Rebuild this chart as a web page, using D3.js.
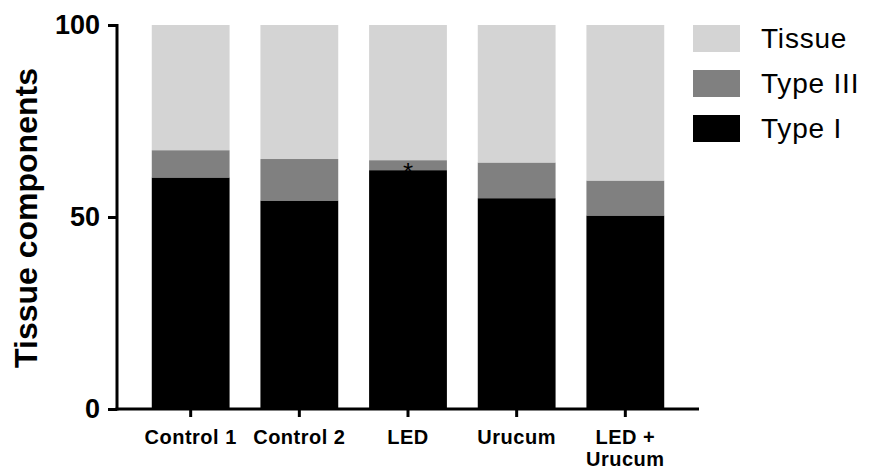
<!DOCTYPE html>
<html>
<head>
<meta charset="utf-8">
<script src="https://cdn.jsdelivr.net/npm/d3@7"></script>
<style>
  body { margin: 0; background: #fff; }
  text { font-family: 'Liberation Sans', Arial, sans-serif; }
</style>
</head>
<body>
<svg class="chart" width="869" height="470"></svg>
<script>
// data (percent)
const groups = ['Control 1', 'Control 2', 'LED', 'Urucum', 'LED + Urucum'];
const typeI = [60.3, 54.3, 62.2, 54.9, 50.4];
const typeIII = [7.1, 10.8, 2.6, 9.3, 9.1];
const tissue = groups.map((g, i) => +(100 - typeI[i] - typeIII[i]).toFixed(1));
const yTicks = [0, 50, 100];
const seriesNames = ['Type I', 'Type III', 'Tissue'];
const colors = ['#000000', '#808080', '#d4d4d4'];
const marked = ['LED'];

const rows = groups.map((g, i) => ({
  group: g, 'Type I': typeI[i], 'Type III': typeIII[i], 'Tissue': tissue[i]
}));

const svg = d3.select('.chart');

const xScale = d3.scaleBand()
  .domain(groups)
  .range([117, 699])
  .paddingInner(0.284)
  .paddingOuter(0.32);

const yScale = d3.scaleLinear()
  .domain([0, 100])
  .range([409, 25]);

const stacked = d3.stack().keys(seriesNames)(rows);

svg.append('g')
  .selectAll('g')
  .data(stacked)
  .enter()
  .append('g')
  .attr('fill', (d, i) => colors[i])
  .selectAll('rect')
  .data(d => d)
  .enter()
  .append('rect')
  .attr('x', d => xScale(d.data.group))
  .attr('width', xScale.bandwidth())
  .attr('y', d => yScale(d[1]))
  .attr('height', d => yScale(d[0]) - yScale(d[1]));

// asterisk over Type I of LED
svg.selectAll('text.star')
  .data(rows.filter(r => marked.includes(r.group)))
  .enter()
  .append('text')
  .attr('class', 'star')
  .attr('x', d => xScale(d.group) + xScale.bandwidth() / 2)
  .attr('y', d => yScale(d['Type I']) + 11)
  .attr('text-anchor', 'middle')
  .style('font-size', '26px')
  .text('*');

// y axis
const yAxis = d3.axisLeft(yScale).tickValues(yTicks).tickSize(9).tickPadding(8);
const gy = svg.append('g')
  .attr('transform', 'translate(117,0)')
  .call(yAxis);
gy.select('.domain').attr('stroke', '#000').attr('stroke-width', 3).attr('d', 'M0,24V410.5');
gy.selectAll('.tick line').attr('stroke-width', 3);
gy.selectAll('.tick text')
  .attr('fill', '#000')
  .style('font-size', '27px')
  .style('font-weight', 'bold');

// x axis
const xAxis = d3.axisBottom(xScale).tickSize(8).tickPadding(8).tickFormat('');
const gx = svg.append('g')
  .attr('transform', 'translate(0,409)')
  .call(xAxis);
gx.select('.domain').attr('stroke', '#000').attr('stroke-width', 3).attr('d', 'M115.5,0H699');
gx.selectAll('.tick line').attr('stroke-width', 3);

svg.append('g')
  .selectAll('text')
  .data(groups)
  .enter()
  .append('text')
  .attr('x', d => xScale(d) + xScale.bandwidth() / 2)
  .attr('y', 444)
  .attr('text-anchor', 'middle')
  .style('font-size', '20px')
  .style('font-weight', 'bold')
  .style('letter-spacing', '0.5px')
  .each(function (d) {
    const parts = d === 'LED + Urucum' ? ['LED +', 'Urucum'] : [d];
    d3.select(this).selectAll('tspan')
      .data(parts)
      .enter()
      .append('tspan')
      .attr('x', xScale(d) + xScale.bandwidth() / 2)
      .attr('dy', (p, i) => i === 0 ? 0 : 22)
      .text(p => p);
  });

// y axis label
svg.append('text')
  .attr('transform', 'translate(37,218) rotate(-90)')
  .attr('text-anchor', 'middle')
  .style('font-size', '32px')
  .style('font-weight', 'bold')
  .text('Tissue components');

// legend
const legendOrder = ['Tissue', 'Type III', 'Type I'];
const legend = svg.append('g')
  .selectAll('g')
  .data(legendOrder)
  .enter()
  .append('g')
  .attr('transform', (d, i) => 'translate(693,' + (25 + i * 45) + ')');
legend.append('rect')
  .attr('width', 47)
  .attr('height', 27)
  .attr('fill', d => colors[seriesNames.indexOf(d)]);
legend.append('text')
  .attr('x', 68)
  .attr('y', 23)
  .style('font-size', '28px')
  .style('letter-spacing', '0.8px')
  .text(d => d);
</script>
</body>
</html>
